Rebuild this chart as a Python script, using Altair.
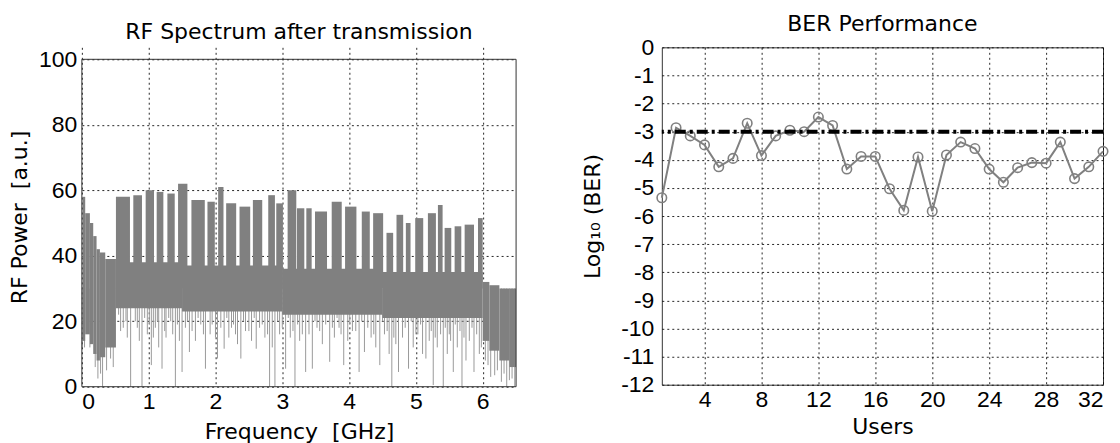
import altair as alt
import pandas as pd

LABEL_FONT = "Liberation Sans"
TITLE_FONT = "DejaVu Sans"
GRAY = "#808080"
SPIKE = "#9a9a9a"
FRAME = "#333333"

# ---------------- RF spectrum (left panel) ----------------
# continuous noise floor segments [GHz] with their upper / lower level [a.u.]
floor_f0 = [0.00, 0.01, 0.05, 0.12, 0.17, 0.22, 0.27, 0.35, 0.51, 1.50, 3.00, 4.50, 6.00, 6.10, 6.25, 6.40]
floor_f1 = [0.01, 0.05, 0.12, 0.17, 0.22, 0.27, 0.35, 0.51, 1.50, 3.00, 4.50, 6.00, 6.10, 6.25, 6.40, 6.50]
floor_hi = [30, 58, 53, 50, 46, 42, 41, 39, 38, 37, 36, 35, 32, 31, 30, 30]
floor_lo = [12, 14, 16, 13, 10, 8, 9, 12, 24, 23, 22, 21, 14, 11, 8, 6]

# the 32 user sub-bands
band_f0 = [0.51, 0.77, 0.955, 1.12, 1.28, 1.44, 1.64, 1.88, 2.04, 2.16, 2.36, 2.56, 2.79, 2.91, 3.08, 3.22,
           3.36, 3.49, 3.74, 3.94, 4.19, 4.36, 4.56, 4.71, 4.85, 4.99, 5.18, 5.33, 5.43, 5.58, 5.73, 5.93]
band_f1 = [0.72, 0.90, 1.08, 1.22, 1.39, 1.58, 1.84, 1.99, 2.12, 2.31, 2.52, 2.70, 2.89, 3.01, 3.21, 3.33,
           3.44, 3.67, 3.89, 4.11, 4.31, 4.51, 4.66, 4.81, 4.92, 5.11, 5.30, 5.40, 5.53, 5.68, 5.87, 6.00]
band_top = [58, 58.5, 60, 59.5, 59, 62, 57, 56.5, 61, 56, 55, 57, 58.5, 56, 60, 54.5,
            54.5, 53.5, 56.5, 55, 53.5, 53, 47, 52.5, 50, 51.5, 53, 55.5, 48.5, 49, 49.5, 51.5]

# deep downward spectral nulls
spike_f = [0.04, 0.08, 0.12, 0.20, 0.24, 0.28, 0.31, 0.37, 0.43, 0.47, 0.55, 0.62, 0.68, 0.73, 0.80, 0.86,
           0.90, 0.98, 1.04, 1.10, 1.15, 1.20, 1.26, 1.33, 1.40, 1.46, 1.50, 1.55, 1.61, 1.70, 1.78, 1.85,
           1.92, 2.03, 2.08, 2.13, 2.20, 2.27, 2.33, 2.38, 2.45, 2.54, 2.61, 2.66, 2.74, 2.81, 2.85, 2.89,
           2.96, 3.05, 3.12, 3.19, 3.26, 3.35, 3.40, 3.45, 3.52, 3.60, 3.71, 3.78, 3.85, 3.92, 3.98, 4.05,
           4.15, 4.23, 4.33, 4.40, 4.46, 4.53, 4.60, 4.64, 4.70, 4.74, 4.80, 4.89, 4.96, 5.03, 5.10, 5.15,
           5.20, 5.26, 5.32, 5.37, 5.41, 5.47, 5.52, 5.56, 5.62, 5.69, 5.75, 5.80, 5.87, 5.95, 6.04, 6.08,
           6.12, 6.18, 6.22, 6.28, 6.32, 6.36, 6.40, 6.44, 6.48]
spike_lo = [12, 18, 12, 6, 2.5, 4, 0, 5, 8.6, 6, 22, 18, 15, 0, 20, 14,
            0, 16, 6.6, 18, 12, 5.5, 15, 20, 0, 14, 4.5, 18, 10.6, 14, 19, 5.5,
            16, 8.6, 18, 11.6, 15, 19, 13, 8.6, 17, 14, 11.6, 18, 15, 0, 12, 0,
            16, 5.5, 15, 0, 14, 4.5, 16, 5.5, 18, 13, 7.6, 15, 18, 6.6, 14, 17,
            4.5, 10.6, 15, 12, 6.6, 16, 10, 0, 13, 4.5, 15, 5.5, 12, 16, 10, 8.6,
            14, 0.5, 12, 16, 0, 10, 14, 4.5, 12, 0, 8, 14, 4.5, 10, 8, 6.6,
            3, 3.5, 5, 1.5, 4, 0, 2, 2.5, 0]

# shallower nulls that roughen the lower edge of the noise floor
dip_f = [0.58, 0.66, 0.83, 0.94, 1.01, 1.07, 1.13, 1.24, 1.30, 1.36, 1.43, 1.58, 1.65, 1.74, 1.82, 1.95,
         2.00, 2.17, 2.24, 2.30, 2.42, 2.50, 2.58, 2.70, 2.78, 2.93, 3.00, 3.09, 3.16, 3.23, 3.30, 3.49,
         3.56, 3.65, 3.75, 3.82, 3.88, 4.01, 4.10, 4.19, 4.28, 4.37, 4.50, 4.57, 4.67, 4.84, 4.93, 5.00,
         5.07, 5.23, 5.29, 5.44, 5.50, 5.59, 5.66, 5.72, 5.84, 5.91, 5.98]
dip_lo = [17, 20, 18, 21, 19, 15, 20, 17, 21, 16, 19, 20, 17, 21, 16, 19,
          15, 21, 18, 16, 20, 17, 21, 19, 16, 20, 18, 21, 17, 19, 16, 20,
          17, 19, 18, 21, 16, 19, 17, 20, 18, 16, 20, 17, 15, 18, 20, 16,
          19, 17, 15, 18, 16, 19, 17, 15, 18, 16, 12]

freq_ticks = [0, 1, 2, 3, 4, 5, 6]
power_ticks = [0, 20, 40, 60, 80, 100]
freq_range = [0, 6.5]
power_range = [0, 100]

floor_df = pd.DataFrame({"f0": floor_f0, "f1": floor_f1, "lo": floor_lo, "hi": floor_hi})
band_df = pd.DataFrame({"f0": band_f0, "f1": band_f1, "top": band_top})
spike_df = pd.DataFrame({"f": spike_f + dip_f, "lo": spike_lo + dip_lo})
frame_df = pd.DataFrame({"f0": [freq_range[0]], "f1": [freq_range[1]],
                         "p0": [power_range[0]], "p1": [power_range[1]]})

LEFT_H = 340          # plot height incl. a 12px strip above the 100 line
LEFT_FRAME_H = 328
fx = alt.Scale(domain=freq_range, nice=False, zero=False)
fy = alt.Scale(domain=[0, power_range[1] * LEFT_H / LEFT_FRAME_H], nice=False)

num_label = "'' + datum.value"

x_freq = alt.X("f:Q", scale=fx, axis=alt.Axis(values=freq_ticks, tickCount=len(freq_ticks),
                                               title="Frequency\u00a0 [GHz]",
                                               labelExpr=num_label, labelPadding=4, titlePadding=8))
y_pow = alt.Y("lo:Q", scale=fy, axis=alt.Axis(values=power_ticks, tickCount=len(power_ticks),
                                               title="RF Power\u00a0 [a.u.]",
                                               labelExpr=num_label, labelPadding=5, titlePadding=7))

# spikes first, so the solid floor covers their upper part
spikes = alt.Chart(spike_df).mark_rule(color=SPIKE, strokeWidth=1).encode(
    x=x_freq, y=y_pow, y2=alt.datum(30)
)
floor = alt.Chart(floor_df).mark_rect(color=GRAY).encode(
    x="f0:Q", x2="f1:Q", y="lo:Q", y2="hi:Q"
)
bands = alt.Chart(band_df).mark_rect(color=GRAY).encode(
    x="f0:Q", x2="f1:Q", y="top:Q", y2=alt.datum(30)
)
frame = alt.Chart(frame_df).mark_rect(fill="transparent", stroke=FRAME, strokeWidth=1).encode(
    x="f0:Q", x2="f1:Q", y="p0:Q", y2="p1:Q"
)

left = alt.layer(spikes, floor, bands, frame).properties(
    width=435, height=LEFT_H,
    view=alt.ViewBackground(stroke="transparent"),
    title=alt.TitleParams("RF Spectrum after transmission", offset=0, dy=-3),
)

# ---------------- BER performance (right panel) ----------------
users = list(range(1, 33))
log_ber = [-5.35, -2.86, -3.15, -3.47, -4.25, -3.95, -2.70, -3.85, -3.15, -2.95, -3.00, -2.48,
           -2.78, -4.33, -3.88, -3.88, -5.03, -5.80, -3.90, -5.83, -3.83, -3.37, -3.60, -4.33,
           -4.80, -4.28, -4.10, -4.12, -3.37, -4.67, -4.25, -3.70]
ber_limit = -3
user_ticks = [4, 8, 12, 16, 20, 24, 28, 32]
ber_ticks = [0, -1, -2, -3, -4, -5, -6, -7, -8, -9, -10, -11, -12]

ber_df = pd.DataFrame({"user": users, "ber": log_ber})
ux = alt.Scale(domain=[1, 32], nice=False, zero=False)
uy = alt.Scale(domain=[-12, 0], nice=False)

ber_line = alt.Chart(ber_df).mark_line(color=GRAY, strokeWidth=2).encode(
    x=alt.X("user:Q", scale=ux, axis=alt.Axis(values=user_ticks, tickCount=len(user_ticks),
                                               title="Users",
                                               labelExpr=num_label, labelPadding=4, titlePadding=5)),
    y=alt.Y("ber:Q", scale=uy, axis=alt.Axis(values=ber_ticks, tickCount=len(ber_ticks),
                                              title="Log₁₀ (BER)",
                                              labelExpr=num_label, labelPadding=8, titlePadding=16)),
)
ber_pts = alt.Chart(ber_df).mark_point(shape="circle", filled=False, color=GRAY, size=90,
                                       strokeWidth=1.6, opacity=1).encode(
    x="user:Q", y="ber:Q"
)
limit = alt.Chart(pd.DataFrame({"lim": [ber_limit]})).mark_rule(
    color="black", strokeWidth=4, strokeDash=[11, 4, 3, 4]
).encode(y="lim:Q")

right = alt.layer(ber_line, ber_pts, limit).properties(
    width=442, height=338,
    title=alt.TitleParams("BER Performance", offset=0),
)

chart = alt.hconcat(left, right, spacing=64).properties(
    padding={"left": 0, "top": 4, "right": 0, "bottom": 0}
).configure_view(
    stroke=FRAME, strokeWidth=1
).configure_axis(
    labelFont=LABEL_FONT, labelFontSize=23, labelColor="black", labelOverlap=False,
    titleFont=TITLE_FONT, titleFontSize=22, titleFontWeight="normal", titleColor="black",
    domain=False, ticks=False,
    grid=True, gridColor="black", gridDash=[2, 3], gridWidth=1, gridOpacity=0.85,
    zindex=1,
).configure_title(
    font=TITLE_FONT, fontSize=22, fontWeight="normal", color="black", anchor="middle"
)

chart.save("out.html", embed_options={"renderer": "svg", "actions": False})
